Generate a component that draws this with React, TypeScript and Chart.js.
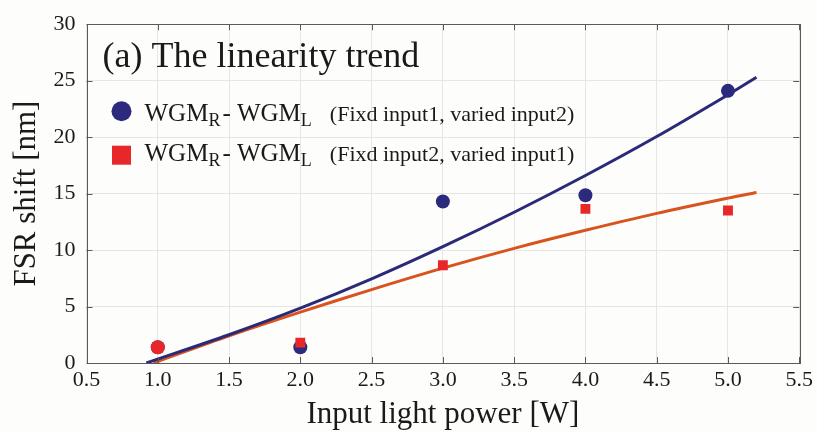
import React, { useEffect, useRef } from 'react';
import { Chart, registerables } from 'chart.js';

Chart.register(...registerables);

// Measured points
const powerW = [1.0, 2.0, 3.0, 4.0, 5.0];
const shiftVariedInput2 = [1.4, 1.4, 14.3, 14.85, 24.1];
const shiftVariedInput1 = [1.4, 1.8, 8.65, 13.65, 13.5];
const redPointStyles = ['circle', 'rect', 'rect', 'rect', 'rect'];

// Fit curves
const fitXBlue = [0.92, 1.5, 2.0, 2.5, 3.0, 3.5, 4.0, 4.5, 5.0, 5.2];
const fitYBlue = [0, 2.5, 4.85, 7.45, 10.3, 13.35, 16.6, 20.05, 23.75, 25.3];
const fitXOrange = [0.97, 1.5, 2.0, 2.5, 3.0, 3.5, 4.0, 4.5, 5.0, 5.2];
const fitYOrange = [0, 2.4, 4.5, 6.5, 8.4, 10.15, 11.75, 13.25, 14.6, 15.1];

const xTicks = [0.5, 1.0, 1.5, 2.0, 2.5, 3.0, 3.5, 4.0, 4.5, 5.0, 5.5];
const yTicks = [0, 5, 10, 15, 20, 25, 30];

const titleText = '(a) The linearity trend';
const xTitle = 'Input light power [W]';
const yTitle = 'FSR shift [nm]';
const legendNotes = ['(Fixd input1, varied input2)', '(Fixd input2, varied input1)'];

const SERIF = '"Liberation Serif", "Times New Roman", serif';
const BLUE = '#2c2a7c';
const NAVY_LINE = '#2b2a78';
const RED = '#e8272a';
const ORANGE = '#d9531e';

const toXY = (xs: number[], ys: number[]) => xs.map((x, i) => ({ x, y: ys[i] }));

const decorPlugin = {
  id: 'decor',
  beforeDraw(chart: any) {
    const ctx = chart.ctx;
    ctx.save();
    ctx.fillStyle = '#fdfdfc';
    ctx.fillRect(0, 0, chart.width, chart.height);
    ctx.restore();
  },
  afterDraw(chart: any) {
    const ctx = chart.ctx;
    const { left, right, top, bottom } = chart.chartArea;
    const xs = chart.scales.x;
    const ys = chart.scales.y;
    ctx.save();
    // box
    ctx.strokeStyle = '#5a5a5a';
    ctx.lineWidth = 1;
    ctx.strokeRect(Math.round(left) + 0.5, Math.round(top) + 0.5, Math.round(right - left), Math.round(bottom - top));
    // inward ticks
    const tl = 6;
    ctx.beginPath();
    xTicks.forEach((v) => {
      const px = Math.round(xs.getPixelForValue(v)) + 0.5;
      ctx.moveTo(px, bottom);
      ctx.lineTo(px, bottom - tl);
      ctx.moveTo(px, top);
      ctx.lineTo(px, top + tl);
    });
    yTicks.forEach((v) => {
      const py = Math.round(ys.getPixelForValue(v)) + 0.5;
      ctx.moveTo(left, py);
      ctx.lineTo(left + tl, py);
      ctx.moveTo(right, py);
      ctx.lineTo(right - tl, py);
    });
    ctx.stroke();

    // title inside plot
    ctx.fillStyle = '#1a1a1a';
    ctx.textBaseline = 'alphabetic';
    ctx.textAlign = 'left';
    ctx.font = `36px ${SERIF}`;
    ctx.fillText(titleText, left + 16, top + 43);

    // legend
    const drawEntry = (x: number, y: number, note: string) => {
      ctx.fillStyle = '#1a1a1a';
      ctx.font = `25px ${SERIF}`;
      ctx.fillText('WGM', x, y);
      x += ctx.measureText('WGM').width;
      ctx.font = `18px ${SERIF}`;
      ctx.fillText('R', x, y + 5);
      x += ctx.measureText('R').width + 2;
      ctx.font = `25px ${SERIF}`;
      ctx.fillText('- WGM', x, y);
      x += ctx.measureText('- WGM').width;
      ctx.font = `18px ${SERIF}`;
      ctx.fillText('L', x, y + 5);
      x += ctx.measureText('L').width + 18;
      ctx.font = `22px ${SERIF}`;
      ctx.fillText(note, x, y);
    };
    const mx = left + 35;
    ctx.fillStyle = BLUE;
    ctx.beginPath();
    ctx.arc(mx, top + 87, 10, 0, Math.PI * 2);
    ctx.fill();
    drawEntry(left + 58, top + 97, legendNotes[0]);
    ctx.fillStyle = RED;
    ctx.fillRect(mx - 9.5, top + 131 - 9.5, 19, 19);
    drawEntry(left + 58, top + 137, legendNotes[1]);
    ctx.restore();
  },
};

export default function App() {
  const ref = useRef<HTMLCanvasElement | null>(null);
  useEffect(() => {
    document.body.style.margin = '0';
    const canvas = ref.current;
    if (!canvas) return;
    const chart = new Chart(canvas, {
      type: 'scatter',
      data: {
        datasets: [
          {
            label: 'WGMR - WGML (Fixd input2, varied input1)',
            data: toXY(powerW, shiftVariedInput1),
            backgroundColor: RED,
            borderColor: RED,
            borderWidth: 0,
            pointStyle: redPointStyles as any,
            pointRadius: 7,
            showLine: false,
          },
          {
            label: 'WGMR - WGML (Fixd input1, varied input2)',
            data: toXY(powerW, shiftVariedInput2),
            backgroundColor: BLUE,
            borderColor: BLUE,
            borderWidth: 0,
            pointStyle: 'circle',
            pointRadius: 7,
            showLine: false,
          },
          {
            label: 'fit blue',
            data: toXY(fitXBlue, fitYBlue),
            borderColor: NAVY_LINE,
            borderWidth: 3,
            pointRadius: 0,
            showLine: true,
            tension: 0.3,
          },
          {
            label: 'fit orange',
            data: toXY(fitXOrange, fitYOrange),
            borderColor: ORANGE,
            borderWidth: 3,
            pointRadius: 0,
            showLine: true,
            tension: 0.3,
          },
        ] as any,
      },
      options: {
        animation: false,
        responsive: false,
        devicePixelRatio: 1,
        layout: { padding: { top: 20, right: 17, left: 0, bottom: 0 } },
        plugins: { legend: { display: false }, tooltip: { enabled: false } },
        scales: {
          x: {
            type: 'linear',
            min: 0.5,
            max: 5.5,
            afterBuildTicks: (s: any) => {
              s.ticks = xTicks.map((v) => ({ value: v }));
            },
            afterFit: (s: any) => {
              s.height = 70;
            },
            ticks: {
              color: '#1a1a1a',
              font: { family: SERIF, size: 22 },
              padding: 4,
              maxRotation: 0,
              autoSkip: false,
              callback: (v: any) => Number(v).toFixed(1),
            },
            grid: { color: '#e6e6e6', drawTicks: false, lineWidth: 1 },
            border: { display: false },
            title: {
              display: true,
              text: xTitle,
              color: '#1a1a1a',
              font: { family: SERIF, size: 31 },
              padding: { top: 0, bottom: 0 },
            },
          },
          y: {
            type: 'linear',
            min: 0,
            max: 30,
            afterBuildTicks: (s: any) => {
              s.ticks = yTicks.map((v) => ({ value: v }));
            },
            afterFit: (s: any) => {
              s.width = 86.5;
            },
            ticks: {
              color: '#1a1a1a',
              font: { family: SERIF, size: 22 },
              padding: 11,
              autoSkip: false,
            },
            grid: { color: '#e6e6e6', drawTicks: false, lineWidth: 1 },
            border: { display: false },
            title: {
              display: true,
              text: yTitle,
              color: '#1a1a1a',
              font: { family: SERIF, size: 31 },
              padding: { top: 8, bottom: 0 },
            },
          },
        },
      } as any,
      plugins: [decorPlugin],
    });
    return () => chart.destroy();
  }, []);
  return (
    <div style={{ width: 817, height: 433 }}>
      <canvas ref={ref} width={817} height={433} style={{ display: 'block' }} />
    </div>
  );
}
